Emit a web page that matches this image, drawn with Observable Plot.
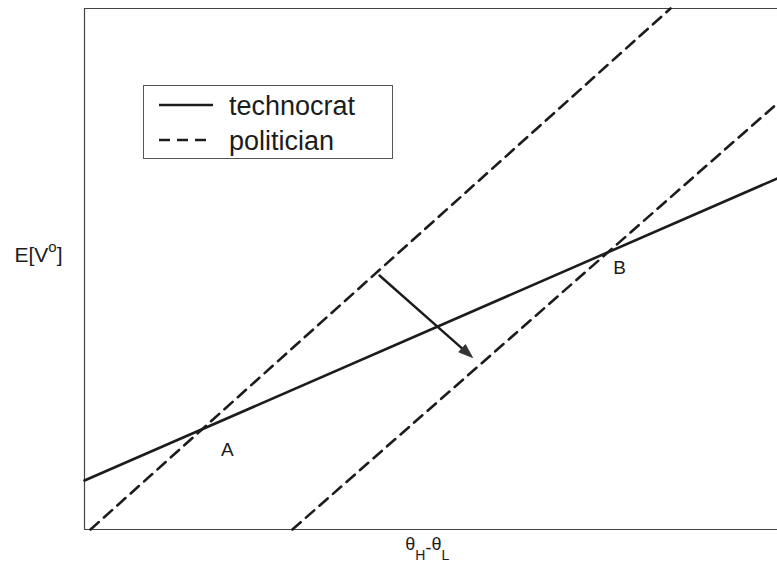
<!DOCTYPE html>
<html>
<head>
<meta charset="utf-8">
<script src="https://cdn.jsdelivr.net/npm/d3@7"></script>
<script src="https://cdn.jsdelivr.net/npm/@observablehq/plot@0.6"></script>
<style>
  body { margin: 0; background: #fff; }
  #wrap { position: relative; width: 777px; height: 570px; overflow: hidden; background: #fff; }
  #legend { position: absolute; left: 143px; top: 85px; width: 250px; height: 74px; box-sizing: border-box;
            border: 1px solid #555; background: #fff; }
  #legend svg { position: absolute; left: 0; top: 0; }
</style>
</head>
<body>
<div id="wrap"></div>
<script>
// ---- data (abstract units: x 0..10, y 0..10) ----
const xDomain = [0, 10];
const yDomain = [0, 10];
const seriesNames = ["technocrat", "politician"];
const technocratX = [0, 10];
const technocratY = [0.94, 6.74];
const politicianX = [[0.087, 8.456], [3.0, 10]];
const politicianY = [[0, 10], [0, 8.18]];
const arrowFrom = [4.257, 4.875];
const arrowTo = [5.60, 3.30];
const pointLabels = ["A", "B"];
const pointX = [2.063, 7.72];
const pointY = [1.535, 5.03];
const xLabelText = "θH-θL";
const yLabelText = "E[Vo]";
const xLabelPos = 4.63;
const yLabelPos = 5.125;

// ---- layout ----
const W = 777, H = 570;
const mL = 84, mR = 0, mT = 8, mB = 41;
const FONT = '"Liberation Sans", Arial, Helvetica, sans-serif';
const INK = "#1c1c1c";
const DASH = "11,7";

const techData = technocratX.map((x, i) => ({x, y: technocratY[i]}));
const polData = politicianX.flatMap((xs, k) => xs.map((x, i) => ({id: k, x, y: politicianY[k][i]})));
const labelData = pointLabels.map((t, i) => ({t, x: pointX[i], y: pointY[i]}));

// pixel direction of the arrow, for the head rotation
const sx = d3.scaleLinear(xDomain, [mL, W - mR]);
const sy = d3.scaleLinear(yDomain, [H - mB, mT]);
const adx = sx(arrowTo[0]) - sx(arrowFrom[0]);
const ady = sy(arrowTo[1]) - sy(arrowFrom[1]);
const arrowAngle = Math.atan2(adx, -ady) * 180 / Math.PI;

const arrowHead = {
  draw(ctx, size) {
    const s = Math.sqrt(size / Math.PI);
    ctx.moveTo(0, 0);
    ctx.lineTo(-s * 0.72, s * 2);
    ctx.lineTo(s * 0.72, s * 2);
    ctx.closePath();
  }
};

const plot = Plot.plot({
  width: W, height: H,
  marginLeft: mL, marginRight: mR, marginTop: mT, marginBottom: mB,
  x: {domain: xDomain, axis: null},
  y: {domain: yDomain, axis: null},
  style: {fontFamily: FONT, background: "#fff", color: INK, overflow: "visible"},
  marks: [
    Plot.ruleY([yDomain[0], yDomain[1]], {stroke: "#444", strokeWidth: 1.2}),
    Plot.ruleX([xDomain[0]], {stroke: "#444", strokeWidth: 1.2}),
    Plot.line(techData, {x: "x", y: "y", stroke: INK, strokeWidth: 2.6}),
    Plot.line(polData, {x: "x", y: "y", z: "id", stroke: INK, strokeWidth: 2.6, strokeDasharray: DASH}),
    Plot.arrow([{x1: arrowFrom[0], y1: arrowFrom[1], x2: arrowTo[0], y2: arrowTo[1]}],
      {x1: "x1", y1: "y1", x2: "x2", y2: "y2", stroke: INK, strokeWidth: 2.4, headLength: 0, insetEnd: 8}),
    Plot.dot([{x: arrowTo[0], y: arrowTo[1]}],
      {x: "x", y: "y", symbol: arrowHead, r: 7, rotate: arrowAngle, fill: "#333", stroke: "#333", strokeWidth: 0.8}),
    Plot.text(labelData, {x: "x", y: "y", text: "t", fontSize: 19, fill: INK, lineAnchor: "middle"}),
    Plot.text([{x: xLabelPos}], {x: "x", frameAnchor: "bottom", text: () => xLabelText, textAnchor: "start",
      lineAnchor: "bottom", dy: 20, fontSize: 18, fill: INK}),
    Plot.text([{y: yLabelPos}], {y: "y", frameAnchor: "left", text: () => yLabelText, textAnchor: "start",
      lineAnchor: "bottom", dx: -70, fontSize: 21, fill: INK})
  ]
});

// sub/superscripts as tspans
function rebuild(content, parts) {
  d3.select(plot).selectAll("text").filter(function () { return this.textContent === content; })
    .each(function () {
      const t = d3.select(this);
      t.text(null);
      for (const p of parts) {
        t.append("tspan").attr("font-size", p.fs).attr("dy", p.dy || 0).text(p.s);
      }
    });
}
rebuild(xLabelText, [
  {s: "θ", fs: 18}, {s: "H", fs: 14, dy: 10}, {s: "-", fs: 18, dy: -6}, {s: "θ", fs: 18, dy: -4}, {s: "L", fs: 14, dy: 10}
]);
rebuild(yLabelText, [
  {s: "E[V", fs: 21}, {s: "o", fs: 15, dy: -10}, {s: "]", fs: 21, dy: 10}
]);

const wrap = document.getElementById("wrap");
wrap.appendChild(plot);

// legend overlay
const legend = document.createElement("div");
legend.id = "legend";
wrap.appendChild(legend);
const lsvg = d3.select(legend).append("svg").attr("width", 248).attr("height", 72)
  .style("font-family", FONT);
const rows = [{name: seriesNames[0], dash: null, len: 54}, {name: seriesNames[1], dash: DASH, len: 49}];
rows.forEach((r, i) => {
  const cy = 19 + i * 35;
  lsvg.append("line").attr("x1", 15).attr("x2", 15 + r.len).attr("y1", cy).attr("y2", cy)
    .attr("stroke", INK).attr("stroke-width", 2.6).attr("stroke-dasharray", r.dash);
  lsvg.append("text").attr("x", 85).attr("y", cy + 10).attr("font-size", 27).attr("fill", INK).text(r.name);
});
</script>
</body>
</html>
